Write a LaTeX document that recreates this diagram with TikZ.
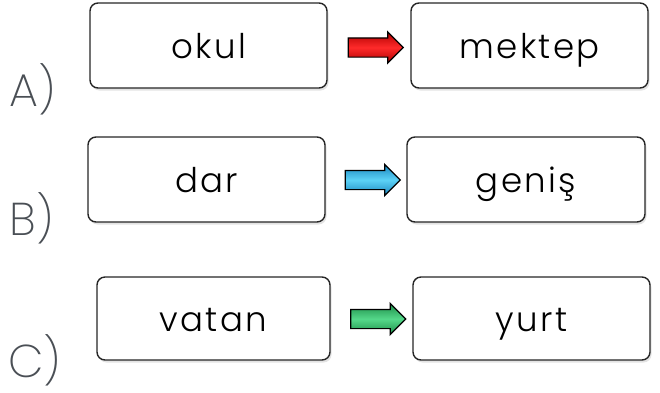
\documentclass[tikz,border=0pt]{standalone}
\usepackage{fontspec}
\setmainfont{Poppins}
\newfontfamily\wordfont{Poppins Light}[LetterSpace=7]
\newfontfamily\labfont{Poppins ExtraLight}
\usetikzlibrary{shapes.arrows,shadows}
\definecolor{labgray}{HTML}{4A4F55}
\definecolor{rdark}{HTML}{B00000}
\definecolor{rlight}{HTML}{FF2A2A}
\definecolor{bdark}{HTML}{1A86C0}
\definecolor{blight}{HTML}{5CD2F6}
\definecolor{gdark}{HTML}{1C8E48}
\definecolor{glight}{HTML}{55D88A}
\tikzset{
  wbox/.style={draw=black!85, line width=1.4pt, rounded corners=8pt, fill=white,
    inner sep=0pt, text height=25pt, text depth=0pt,
    font=\wordfont\fontsize{34}{40}\selectfont,
    drop shadow={opacity=0.22, shadow xshift=1.5pt, shadow yshift=-2.5pt}},
  barrow/.style={single arrow, draw=black, line width=1.2pt, minimum height=55pt,
    inner xsep=0pt, inner ysep=9pt, single arrow head extend=6pt,
    top color=#1, bottom color=#1},
  lab/.style={anchor=base, text=labgray, font=\labfont\fontsize{46}{50}\selectfont, inner sep=0pt}
}
\begin{document}
\begin{tikzpicture}[x=1pt,y=-1pt]
\useasboundingbox (0,0) rectangle (660,392);
% row A
\node[wbox, minimum width=237pt, minimum height=85pt] (a1) at (208.5,45.5) {okul};
\node[wbox, minimum width=237pt, minimum height=85pt] (a2) at (529.5,45.5) {mektep};
\node[barrow=rdark, middle color=rlight] (ra) at (371,47.5) {};
\node[lab] (la) at (32.5,106) {A)};
% row B
\node[wbox, minimum width=237pt, minimum height=85pt] (b1) at (206.5,179.5) {dar};
\node[wbox, minimum width=238pt, minimum height=85pt] (b2) at (526,179.5) {geniş};
\node[barrow=bdark, middle color=blight] (rb) at (368,180) {};
\node[lab] (lb) at (31.5,235) {B)};
% row C
\node[wbox, minimum width=233pt, minimum height=83pt] (c1) at (213.5,318.5) {vatan};
\node[wbox, minimum width=237pt, minimum height=83pt] (c2) at (531.5,318.5) {yurt};
\node[barrow=gdark, middle color=glight] (rc) at (373.5,319) {};
\node[lab] (lc) at (35,377) {C)};
\end{tikzpicture}
\end{document}
